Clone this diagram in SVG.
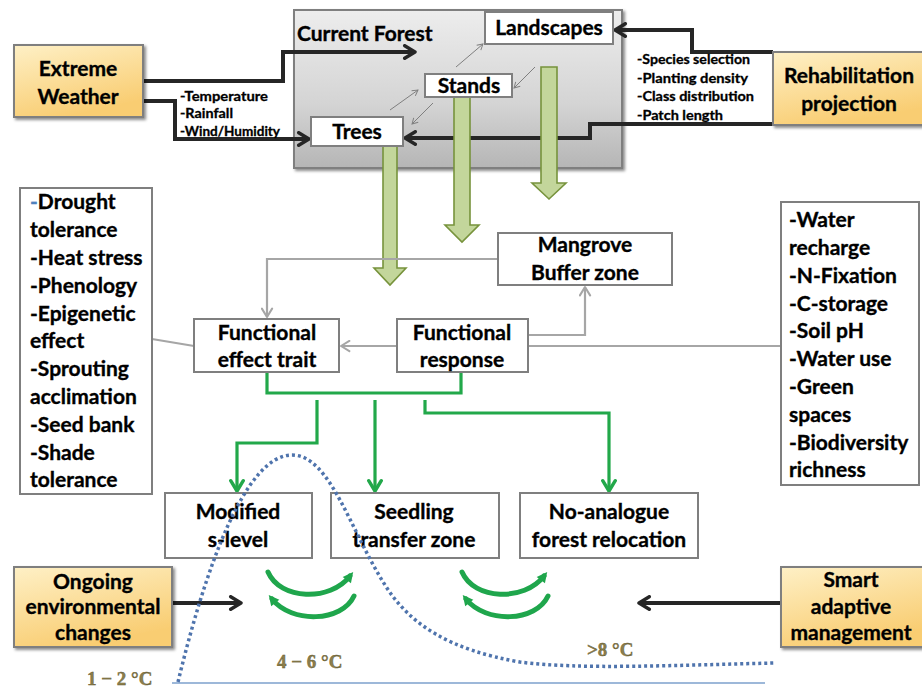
<svg xmlns="http://www.w3.org/2000/svg" width="922" height="689" viewBox="0 0 922 689">
<style>
.t{font-family:Lato,"Open Sans","Liberation Sans",sans-serif;font-weight:bold;fill:#000;stroke:#000;stroke-width:0.35;}
.n{font-size:21px;text-anchor:middle;}
.l{font-size:21px;}
.s{font-size:13px;stroke-width:0.3;}
.box{fill:#fff;stroke:#7f7f7f;stroke-width:2;}
.ybox{fill:url(#yg);stroke:#7f7f7f;stroke-width:2;filter:url(#sh);}
.blk{fill:none;stroke:#262626;stroke-width:4;}
.gry{fill:none;stroke:#a6a6a6;stroke-width:2.2;}
.thin{fill:none;stroke:#7f7f7f;stroke-width:1;}
.grn{fill:none;stroke:#22a84a;stroke-width:3.2;}
.big{fill:#c3d69b;stroke:#77933c;stroke-width:1.6;}
.crv{fill:none;stroke:#1fa64c;stroke-width:5;stroke-linecap:round;}
.tmp{font-family:"Liberation Serif","DejaVu Serif",serif;font-weight:bold;font-size:19px;fill:#8c7f4c;stroke:#5e532c;stroke-width:0.4;}
</style>
<defs>
<linearGradient id="yg" x1="0" y1="0" x2="0.4" y2="1">
<stop offset="0" stop-color="#fef0c6"/>
<stop offset="1" stop-color="#f9cd72"/>
</linearGradient>
<linearGradient id="gg" x1="0" y1="0" x2="0" y2="1">
<stop offset="0" stop-color="#ededed"/>
<stop offset="0.6" stop-color="#d4d4d4"/>
<stop offset="1" stop-color="#b5b5b5"/>
</linearGradient>
<filter id="sh" x="-10%" y="-10%" width="130%" height="130%">
<feDropShadow dx="2" dy="2" stdDeviation="1.5" flood-color="#000" flood-opacity="0.45"/>
</filter>
<marker id="ab" viewBox="0 0 14 14" refX="12" refY="7" markerWidth="16" markerHeight="16" markerUnits="userSpaceOnUse" orient="auto">
<path d="M3,1.5 L12,7 L3,12.5" fill="none" stroke="#262626" stroke-width="3" stroke-linecap="round" stroke-linejoin="round"/>
</marker>
<marker id="ag" viewBox="0 0 14 14" refX="12" refY="7" markerWidth="13" markerHeight="13" markerUnits="userSpaceOnUse" orient="auto">
<path d="M3,1.5 L12,7 L3,12.5" fill="none" stroke="#a6a6a6" stroke-width="2.2" stroke-linecap="round" stroke-linejoin="round"/>
</marker>
<marker id="agr" viewBox="0 0 14 14" refX="12" refY="7" markerWidth="16" markerHeight="16" markerUnits="userSpaceOnUse" orient="auto">
<path d="M3,1.5 L12,7 L3,12.5" fill="none" stroke="#22a84a" stroke-width="3" stroke-linecap="round" stroke-linejoin="round"/>
</marker>
<marker id="at" viewBox="0 0 10 10" refX="9" refY="5" markerWidth="8" markerHeight="8" markerUnits="userSpaceOnUse" orient="auto">
<path d="M2,1 L9,5 L2,9" fill="none" stroke="#7f7f7f" stroke-width="1.2"/>
</marker>
<marker id="ac" viewBox="0 0 10 10" refX="5" refY="5" markerWidth="13" markerHeight="13" markerUnits="userSpaceOnUse" orient="auto">
<path d="M1,1 L9,5 L1,9 Z" fill="#1fa64c"/>
</marker>
</defs>

<rect width="922" height="689" fill="#fff"/>

<g id="current-forest">
<rect x="294" y="10" width="328" height="158" fill="url(#gg)" stroke="#7f7f7f" stroke-width="2" filter="url(#sh)"/>
<text class="t" x="297" y="41" font-size="21">Current Forest</text>
</g>

<g id="connectors">
<path class="blk" d="M143,81 H283 V52 H415" marker-end="url(#ab)"/>
<path class="blk" d="M143,101 H175 V139 H309" marker-end="url(#ab)"/>
<path class="blk" d="M773,52 H692 V30 H615" marker-end="url(#ab)"/>
<path class="blk" d="M773,124 H590 V138 H405" marker-end="url(#ab)"/>
<path class="thin" d="M390,110 L418,90" marker-end="url(#at)"/>
<path class="thin" d="M456,67 L483,44" marker-end="url(#at)"/>
<path class="thin" d="M535,67 L514,88" marker-end="url(#at)"/>
<path class="thin" d="M433,103 L412,124" marker-end="url(#at)"/>
<polygon class="big" points="383,146 397,146 397,268 406,268 390,285 374,268 383,268"/>
<polygon class="big" points="454,97 470,97 470,225 479,225 462,242 445,225 454,225"/>
<polygon class="big" points="541,67 557,67 557,183 566,183 549,199 532,183 541,183"/>
<path class="gry" d="M498,259 H267 V317" marker-end="url(#ag)"/>
<path class="gry" d="M397,346 H341" marker-end="url(#ag)"/>
<path class="gry" d="M528,335 H585 V287" marker-end="url(#ag)"/>
<path class="gry" d="M528,346 H781"/>
<path class="gry" d="M152,339 L194,346"/>
<path class="grn" d="M267,372 V393 H461 V372"/>
<path class="grn" d="M317,400 V443 H237 V491" marker-end="url(#agr)"/>
<path class="grn" d="M375,400 V491" marker-end="url(#agr)"/>
<path class="grn" d="M425,400 V413 H609 V491" marker-end="url(#agr)"/>
<path class="blk" d="M172,603 H241" marker-end="url(#ab)"/>
<path class="blk" d="M781,603 H639" marker-end="url(#ab)"/>
<path class="crv" d="M268,572 C280,600 330,602 350,576" marker-end="url(#ac)"/>
<path class="crv" d="M354,596 C342,622 292,624 272,599" marker-end="url(#ac)"/>
<path class="crv" d="M462,572 C474,600 524,602 544,576" marker-end="url(#ac)"/>
<path class="crv" d="M548,596 C536,622 486,624 466,599" marker-end="url(#ac)"/>
</g>

<g id="extreme-weather">
<rect class="ybox" x="14" y="45" width="129" height="72"/>
<text class="t n" x="78" y="76" font-size="22">Extreme</text>
<text class="t n" x="78" y="104" font-size="22">Weather</text>
<text class="t s" x="180" y="101" textLength="88" lengthAdjust="spacingAndGlyphs">-Temperature</text>
<text class="t s" x="180" y="118" textLength="53" lengthAdjust="spacingAndGlyphs">-Rainfall</text>
<text class="t s" x="180" y="136" textLength="100" lengthAdjust="spacingAndGlyphs">-Wind/Humidity</text>
</g>

<g id="landscapes">
<rect class="box" x="485" y="12" width="128" height="32"/>
<text class="t n" x="549" y="35">Landscapes</text>
</g>
<g id="stands">
<rect class="box" x="425" y="74" width="87" height="23"/>
<text class="t n" x="469" y="93">Stands</text>
</g>
<g id="trees">
<rect class="box" x="311" y="117" width="92" height="29"/>
<text class="t n" x="357" y="139">Trees</text>
</g>

<g id="rehabilitation-projection">
<rect class="ybox" x="773" y="52" width="152" height="73"/>
<text class="t n" x="849" y="83" font-size="22">Rehabilitation</text>
<text class="t n" x="849" y="111" font-size="22">projection</text>
<text class="t s" x="637" y="64" font-size="12" textLength="113" lengthAdjust="spacingAndGlyphs">-Species selection</text>
<text class="t s" x="637" y="83" font-size="12" textLength="111" lengthAdjust="spacingAndGlyphs">-Planting density</text>
<text class="t s" x="637" y="101" font-size="12" textLength="117" lengthAdjust="spacingAndGlyphs">-Class distribution</text>
<text class="t s" x="637" y="120" font-size="12" textLength="86" lengthAdjust="spacingAndGlyphs">-Patch length</text>
</g>

<g id="effect-trait-list">
<rect class="box" x="20" y="188" width="132" height="306"/>
<text class="t l" x="30" y="209"><tspan fill="#4f81bd" stroke="#4f81bd">-</tspan>Drought</text>
<text class="t l" x="30" y="237">tolerance</text>
<text class="t l" x="30" y="265">-Heat stress</text>
<text class="t l" x="30" y="293">-Phenology</text>
<text class="t l" x="30" y="321">-Epigenetic</text>
<text class="t l" x="30" y="348">effect</text>
<text class="t l" x="30" y="376">-Sprouting</text>
<text class="t l" x="30" y="404">acclimation</text>
<text class="t l" x="30" y="432">-Seed bank</text>
<text class="t l" x="30" y="460">-Shade</text>
<text class="t l" x="30" y="487">tolerance</text>
</g>

<g id="response-list">
<rect class="box" x="781" y="202" width="138" height="283"/>
<text class="t l" x="789" y="227">-Water</text>
<text class="t l" x="789" y="255">recharge</text>
<text class="t l" x="789" y="283">-N-Fixation</text>
<text class="t l" x="789" y="311">-C-storage</text>
<text class="t l" x="789" y="338">-Soil pH</text>
<text class="t l" x="789" y="366">-Water use</text>
<text class="t l" x="789" y="394">-Green</text>
<text class="t l" x="789" y="422">spaces</text>
<text class="t l" x="789" y="450">-Biodiversity</text>
<text class="t l" x="789" y="477">richness</text>
</g>

<g id="mangrove-buffer-zone">
<rect class="box" x="498" y="233" width="174" height="52"/>
<text class="t n" x="585" y="252">Mangrove</text>
<text class="t n" x="585" y="280">Buffer zone</text>
</g>

<g id="functional-effect-trait">
<rect class="box" x="194" y="319" width="145" height="53"/>
<text class="t n" x="267" y="340">Functional</text>
<text class="t n" x="267" y="367">effect trait</text>
</g>

<g id="functional-response">
<rect class="box" x="397" y="319" width="131" height="53"/>
<text class="t n" x="462" y="340">Functional</text>
<text class="t n" x="462" y="367">response</text>
</g>

<g id="modified-s-level">
<rect class="box" x="165" y="493" width="147" height="65"/>
<text class="t n" x="238" y="519">Modified</text>
<text class="t n" x="238" y="547">s-level</text>
</g>

<g id="seedling-transfer-zone">
<rect class="box" x="331" y="493" width="168" height="65"/>
<text class="t n" x="414" y="519">Seedling</text>
<text class="t n" x="414" y="547">transfer zone</text>
</g>

<g id="no-analogue-forest-relocation">
<rect class="box" x="520" y="493" width="178" height="65"/>
<text class="t n" x="609" y="519">No-analogue</text>
<text class="t n" x="609" y="547">forest relocation</text>
</g>

<g id="ongoing-environmental-changes">
<rect class="ybox" x="14" y="567" width="158" height="80"/>
<text class="t n" x="93" y="589">Ongoing</text>
<text class="t n" x="93" y="614">environmental</text>
<text class="t n" x="93" y="640">changes</text>
</g>

<g id="smart-adaptive-management">
<rect class="ybox" x="781" y="567" width="146" height="80"/>
<text class="t n" x="851" y="587">Smart</text>
<text class="t n" x="851" y="614">adaptive</text>
<text class="t n" x="851" y="640">management</text>
</g>

<g id="temperature-curve">
<path d="M172,683 H765" fill="none" stroke="#7da0cc" stroke-width="1.5"/>
<path d="M178,682 C205,570 245,455 292,455 C330,455 350,530 385,585 C410,625 450,650 520,662 C580,670 680,665 775,663" fill="none" stroke="#4f74ad" stroke-width="3.5" stroke-dasharray="3 3"/>
<text class="tmp" x="87" y="685">1 − 2 °C</text>
<text class="tmp" x="277" y="668">4 − 6 °C</text>
<text class="tmp" x="587" y="656">&gt;8 °C</text>
</g>
</svg>
